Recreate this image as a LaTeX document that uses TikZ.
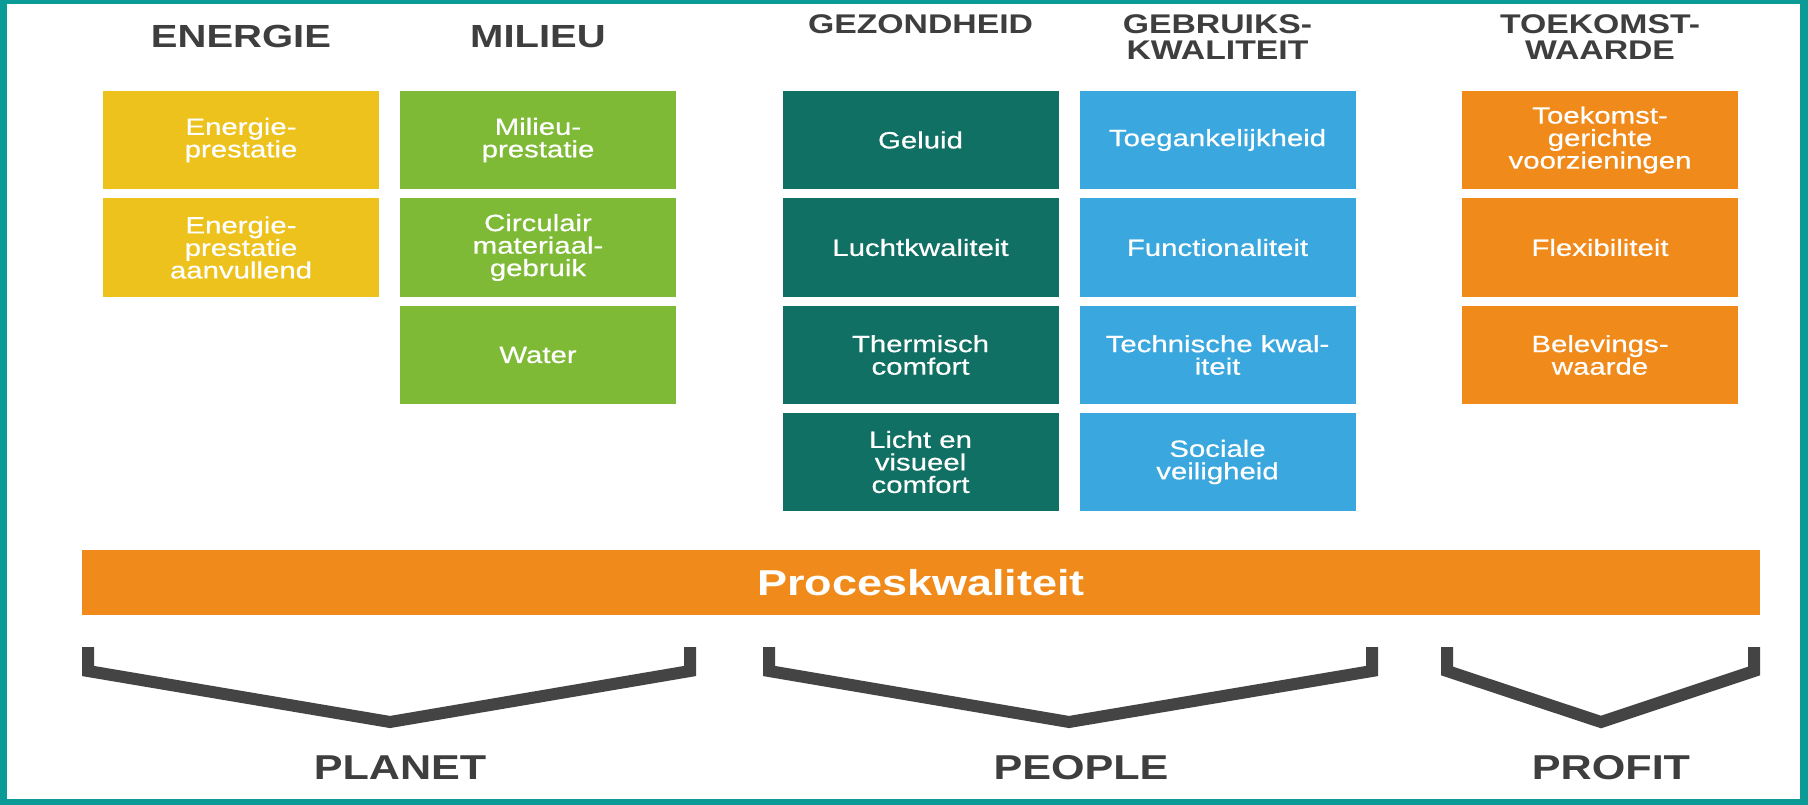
\documentclass[tikz,border=0pt]{standalone}
\usepackage{fontspec}
\newfontfamily\myfont{Liberation Sans}[FakeStretch=1.25]
\newfontfamily\cellfont{Liberation Sans}[FakeStretch=1.25,FakeBold=0.6]
\newcommand\mycellsetup{\cellfont\fontsize{23.5}{22.5}\selectfont\lineskiplimit=-50pt\relax}
\definecolor{frame}{RGB}{10,155,150}
\definecolor{cyellow}{RGB}{237,194,28}
\definecolor{cgreen}{RGB}{126,186,54}
\definecolor{cdteal}{RGB}{16,112,100}
\definecolor{cblue}{RGB}{58,168,222}
\definecolor{corange}{RGB}{240,138,26}
\definecolor{ctext}{RGB}{62,62,62}
\definecolor{cbrack}{RGB}{68,68,68}
\tikzset{
  cell/.style={rectangle, minimum width=276pt, minimum height=98pt, inner sep=0pt,
    align=center, text=white, font=\mycellsetup},
  headA/.style={anchor=base, align=center, inner sep=0pt, text=ctext,
    font=\myfont\bfseries\fontsize{32}{32}\selectfont},
  headB/.style={anchor=base, align=center, inner sep=0pt, text=ctext,
    font=\myfont\bfseries\fontsize{27}{26}\selectfont},
  pillar/.style={anchor=base, inner sep=0pt, text=ctext,
    font=\myfont\bfseries\fontsize{34.5}{36}\selectfont},
  procbar/.style={rectangle, fill=corange, minimum width=1678pt, minimum height=65pt,
    inner sep=0pt, text=white, font=\myfont\bfseries\fontsize{36}{36}\selectfont},
  brack/.style={draw=cbrack, line width=12pt, line join=miter}
}
\begin{document}
\begin{tikzpicture}[x=1pt,y=-1pt]
\useasboundingbox (0,0) rectangle (1808,805);
\fill[frame] (0,0) rectangle (1808,805);
\fill[white] (7,4) rectangle (1800,799);

% headings
\node[headA] (hE) at (241,48) {ENERGIE};
\node[headA] (hM) at (538,48) {MILIEU};
\node[headB] (hG) at (920.5,34) {GEZONDHEID};
\node[headB] (hK) at (1217.5,60) {GEBRUIKS-\\KWALITEIT};
\node[headB] (hT) at (1600,60) {TOEKOMST-\\WAARDE};

% Energie
\node[cell, fill=cyellow] (e1) at (241,140) {Energie-\\prestatie};
\node[cell, fill=cyellow] (e2) at (241,247.5) {Energie-\\prestatie\\aanvullend};
% Milieu
\node[cell, fill=cgreen] (m1) at (538,140) {Milieu-\\prestatie};
\node[cell, fill=cgreen] (m2) at (538,247.5) {Circulair\\materiaal-\\gebruik};
\node[cell, fill=cgreen] (m3) at (538,355) {Water};
% Gezondheid
\node[cell, fill=cdteal] (g1) at (920.5,140) {Geluid};
\node[cell, fill=cdteal] (g2) at (920.5,247.5) {Luchtkwaliteit};
\node[cell, fill=cdteal] (g3) at (920.5,355) {Thermisch\\comfort};
\node[cell, fill=cdteal] (g4) at (920.5,462) {Licht en\\visueel\\comfort};
% Gebruikskwaliteit
\node[cell, fill=cblue] (k1) at (1217.5,140) {Toegankelijkheid};
\node[cell, fill=cblue] (k2) at (1217.5,247.5) {Functionaliteit};
\node[cell, fill=cblue] (k3) at (1217.5,355) {Technische kwal-\\iteit};
\node[cell, fill=cblue] (k4) at (1217.5,462) {Sociale\\veiligheid};
% Toekomstwaarde
\node[cell, fill=corange] (t1) at (1600,140) {Toekomst-\\gerichte\\voorzieningen};
\node[cell, fill=corange] (t2) at (1600,247.5) {Flexibiliteit};
\node[cell, fill=corange] (t3) at (1600,355) {Belevings-\\waarde};

% process bar
\node[procbar] (proc) at (921,582.5) {Proceskwaliteit};

% brackets
\coordinate (pa1) at (88,647);   \coordinate (pa2) at (88,671);
\coordinate (pa3) at (390,722);  \coordinate (pa4) at (690,671);
\coordinate (pa5) at (690,647);
\coordinate (pb1) at (769,647);  \coordinate (pb2) at (769,671);
\coordinate (pb3) at (1069,722); \coordinate (pb4) at (1372,671);
\coordinate (pb5) at (1372,647);
\coordinate (pc1) at (1447,647); \coordinate (pc2) at (1447,671);
\coordinate (pc3) at (1601,722); \coordinate (pc4) at (1754,671);
\coordinate (pc5) at (1754,647);
\draw[brack] (pa1) -- (pa2) -- (pa3) -- (pa4) -- (pa5);
\draw[brack] (pb1) -- (pb2) -- (pb3) -- (pb4) -- (pb5);
\draw[brack] (pc1) -- (pc2) -- (pc3) -- (pc4) -- (pc5);

% pillar labels
\node[pillar] (planet) at (400,779) {PLANET};
\node[pillar] (people) at (1081,779) {PEOPLE};
\node[pillar] (profit) at (1611,779) {PROFIT};
\end{tikzpicture}
\end{document}
